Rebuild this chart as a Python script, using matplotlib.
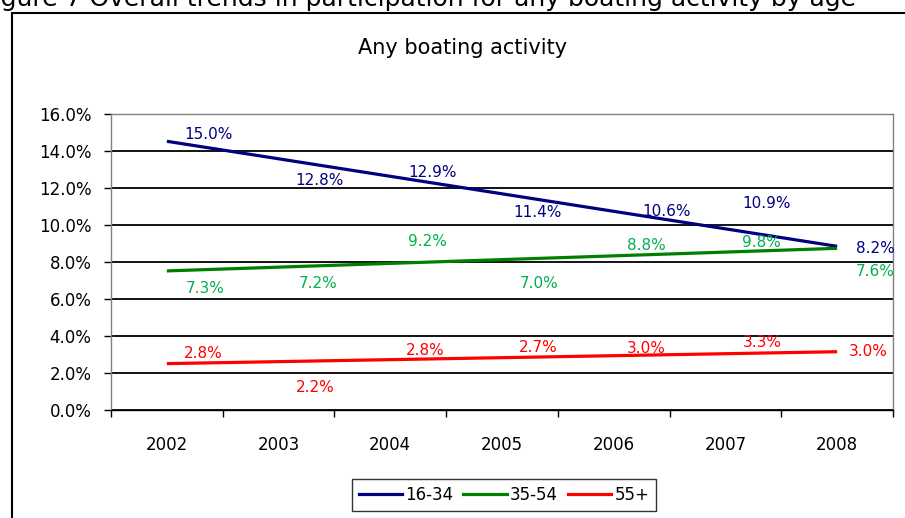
import numpy as np
import matplotlib
matplotlib.use("Agg")
import matplotlib.pyplot as plt
from matplotlib.patches import Rectangle
from matplotlib.lines import Line2D

years = ["2002", "2003", "2004", "2005", "2006", "2007", "2008"]
age_16_34 = [15.0, 12.8, 12.9, 11.4, 10.6, 10.9, 8.2]
age_35_54 = [7.3, 7.2, 9.2, 7.0, 8.8, 9.8, 7.6]
age_55p = [2.8, 2.2, 2.8, 2.7, 3.0, 3.3, 3.0]
series_names = ["16-34", "35-54", "55+"]
y_ticks = [0, 2, 4, 6, 8, 10, 12, 14, 16]

chart_title = "Any boating activity"
caption = "Figure 7 Overall trends in participation for any boating activity by age"

line_colors = ["#000080", "#008000", "#FF0000"]
label_colors = ["#000080", "#00B050", "#FF0000"]

# label offsets in pixels (dx to label left edge, dy downward)
offsets = [
    [(17, 2), (17, 7), (18, 1), (11, 13), (29, -2), (17, -5), (19, -10)],
    [(19, 14), (20, 7), (18, 2), (18, 3), (13, -2), (17, 14), (19, 2)],
    [(17, -5), (17, 18), (16, -8), (17, -13), (13, -6), (17, -6), (12, -3)],
]

W, H = 905, 518
fig = plt.figure(figsize=(W / 100, H / 100), dpi=100)
plt.rcParams['font.family'] = ['DejaVu Sans']

ax = fig.add_axes([111 / W, (H - 410) / H, (893 - 111) / W, (410 - 114) / H])

x = np.arange(len(years))
all_series = [age_16_34, age_35_54, age_55p]
handles = []
for vals, name, lc, tc, offs in zip(all_series, series_names, line_colors, label_colors, offsets):
    vals = np.array(vals)
    coef = np.polyfit(x, vals, 1)
    trend = np.polyval(coef, x)
    ax.plot(x, trend, color=lc, lw=2.3, solid_capstyle='butt', zorder=3)
    handles.append(Line2D([0], [0], color=lc, lw=2.3))
    for xi, v, (dx, dy) in zip(x, vals, offs):
        ax.annotate(f"{v:.1f}%", (xi, v), xytext=(dx, -dy), textcoords='offset pixels',
                    ha='left', va='center', color=tc, fontsize=11, zorder=4,
                    annotation_clip=False)

ax.set_xlim(-0.5, len(years) - 0.5)
ax.set_ylim(0, 16)
ax.set_yticks(y_ticks)
ax.set_yticklabels([f"{t:.1f}%" for t in y_ticks])
ax.yaxis.grid(True, color='black', lw=1.3, zorder=1)
ax.set_axisbelow(True)

ax.set_xticks(np.arange(-0.5, len(years), 1.0))
ax.set_xticklabels([])
ax.set_xticks(x, minor=True)
ax.set_xticklabels(years, minor=True)
ax.tick_params(axis='x', which='major', direction='out', length=5, width=1, color='black')
ax.tick_params(axis='x', which='minor', length=0, pad=19, labelsize=12)
ax.tick_params(axis='y', direction='out', length=5, width=1, color='black', pad=9, labelsize=12)

for s in ['left', 'right', 'top']:
    ax.spines[s].set_color('#808080')
    ax.spines[s].set_linewidth(1.0)
ax.spines['bottom'].set_color('black')
ax.spines['bottom'].set_linewidth(1.0)
ax.spines['bottom'].set_zorder(5)

fig.text(463 / W, 1 - 48 / H, chart_title, ha='center', va='center', fontsize=15)

fig.text(-19 / W, 1 - 6 / H, caption, ha='left', va='baseline', fontsize=18)

frame = Rectangle((12 / W, -0.1), 2.0, (1 - 12.5 / H) + 0.1, transform=fig.transFigure,
                  fill=False, ec='black', lw=1.5)
fig.add_artist(frame)

leg = fig.legend(handles, series_names, loc='center', bbox_to_anchor=(504 / W, 1 - 495 / H),
                 ncol=3, fontsize=12, frameon=True, fancybox=False, edgecolor='black',
                 handlelength=2.6, handletextpad=0.2, columnspacing=0.6, borderpad=0.4,
                 borderaxespad=0)
leg.get_frame().set_linewidth(1.0)

fig.savefig("out.png", dpi=100)
